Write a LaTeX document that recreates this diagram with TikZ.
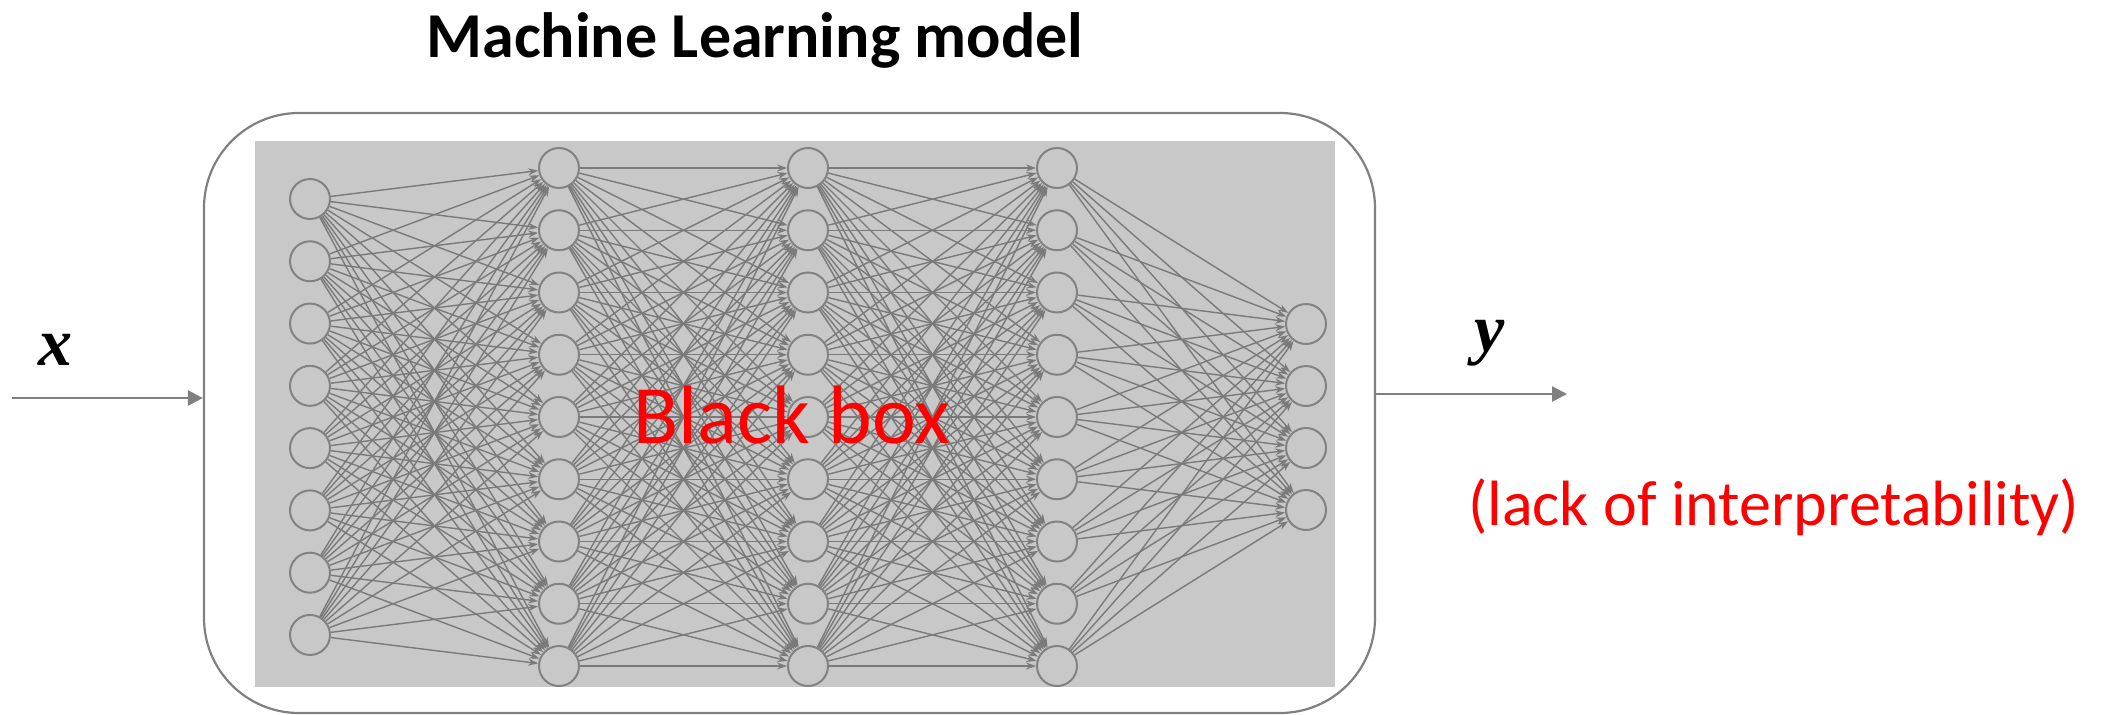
\documentclass[tikz,border=0pt]{standalone}
\usepackage{fontspec}
\newfontfamily\carlito{Carlito}
\newfontfamily\varfont{Liberation Serif}
\usetikzlibrary{arrows.meta}
\definecolor{framegray}{RGB}{128,128,128}
\definecolor{panelgray}{RGB}{200,200,200}
\definecolor{netgray}{RGB}{122,122,122}
\definecolor{ringgray}{RGB}{130,130,130}
\definecolor{alertred}{RGB}{255,0,0}
\begin{document}
\begin{tikzpicture}[x=1pt,y=-1pt,
  neuron/.style={circle, draw=ringgray, line width=2pt, fill=panelgray, minimum size=40pt, inner sep=0pt},
  link/.style={draw=netgray, line width=1.4pt, -{Stealth[length=10pt,width=7pt]}},
  flow/.style={draw=framegray, line width=2.6pt, -{Triangle[length=15pt,width=15pt]}},
  caption/.style={inner sep=0pt, anchor=base},
  varlabel/.style={inner sep=0pt, anchor=base, font=\varfont\bfseries\itshape\fontsize{68pt}{80pt}\selectfont}
]
\useasboundingbox (0,0) rectangle (2105,715);

% model frame and network panel
\node[draw=framegray, line width=2.2pt, rounded corners=95pt, minimum width=1171pt,
      minimum height=600pt, inner sep=0pt] (model) at (789.5,413) {};
\node[fill=panelgray, minimum width=1080pt, minimum height=546pt, inner sep=0pt] (panel) at (795,414) {};

% neurons
\foreach \i in {1,...,8} \node[neuron] (a\i) at (310,{199+62.28*(\i-1)}) {};
\foreach \i in {1,...,9} \node[neuron] (b\i) at (559,{168+62.25*(\i-1)}) {};
\foreach \i in {1,...,9} \node[neuron] (c\i) at (808,{168+62.25*(\i-1)}) {};
\foreach \i in {1,...,9} \node[neuron] (d\i) at (1057,{168+62.25*(\i-1)}) {};
\foreach \i in {1,...,4} \node[neuron] (e\i) at (1306,{324+62*(\i-1)}) {};

% fully connected layers
\foreach \i in {1,...,8} \foreach \j in {1,...,9} \draw[link] (a\i) -- (b\j);
\foreach \i in {1,...,9} \foreach \j in {1,...,9} \draw[link] (b\i) -- (c\j);
\foreach \i in {1,...,9} \foreach \j in {1,...,9} \draw[link] (c\i) -- (d\j);
\foreach \i in {1,...,9} \foreach \j in {1,...,4} \draw[link] (d\i) -- (e\j);

% input and output
\coordinate (xin) at (12,398);
\coordinate (yout) at (1567,394);
\draw[flow] (xin) -- (xin -| model.west);
\draw[flow] (yout -| model.east) -- (yout);
\node[varlabel] (xlab) at (55,365) {x};
\node[varlabel] (ylab) at (1490,351) {y};

% texts
\node[caption, font=\carlito\bfseries\fontsize{64pt}{70pt}\selectfont] (title) at (755,57) {Machine Learning model};
\node[caption, text=alertred, font=\carlito\fontsize{83pt}{90pt}\selectfont] (bbox) at (792,443) {Black box};
\node[caption, anchor=base west, text=alertred, font=\carlito\fontsize{64pt}{70pt}\selectfont] (note) at (1468,525) {(lack of interpretability)};
\end{tikzpicture}
\end{document}
